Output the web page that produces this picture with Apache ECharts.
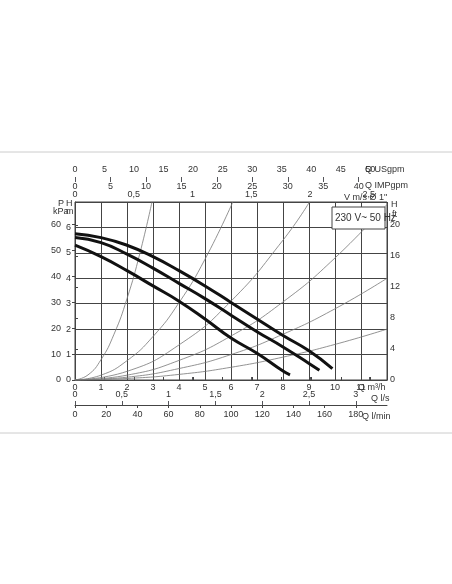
<!DOCTYPE html>
<html><head><meta charset="utf-8">
<script src="https://cdn.jsdelivr.net/npm/echarts@6/dist/echarts.min.js"></script>
<style>html,body{margin:0;background:#fff}#c{width:452px;height:584px}</style></head>
<body><div id="c"></div>
<script>
// pump curves: [Q m3/h, H m]
const pumpHigh = [[0,5.75],[1,5.6],[2,5.3],[3,4.85],[4,4.3],[5,3.7],[6,3.05],[7,2.4],[8,1.75],[9,1.15],[9.9,0.45]];
const pumpMid = [[0,5.6],[1,5.4],[2,4.95],[3,4.4],[4,3.8],[5,3.2],[6,2.55],[7,1.9],[8,1.3],[9,0.65],[9.4,0.38]];
const pumpLow = [[0,5.3],[1,4.85],[2,4.3],[3,3.7],[4,3.1],[5,2.4],[6,1.65],[7,1.05],[8,0.35],[8.27,0.2]];
// system curves
const sys1 = [[0,0],[0.5,0.2],[1,0.8],[1.5,1.8],[2,3.2],[2.5,5],[2.96,7]];
const sys2 = [[0,0],[1,0.19],[2,0.76],[3,1.71],[4,3.04],[5,4.75],[6.07,7]];
const sys3 = [[0,0],[2,0.34],[4,1.38],[6,3.1],[8,5.5],[9.02,7]];
const sys4 = [[0,0],[2,0.19],[4,0.77],[6,1.73],[8,3.07],[10,4.8],[12,6.9]];
const sys5 = [[0,0],[2,0.11],[4,0.45],[6,1.0],[8,1.8],[10,2.8],[12,4.0]];
const sys6 = [[0,0],[2,0.06],[4,0.22],[6,0.5],[8,0.9],[10,1.4],[12,2.0]];
const legendText = '230 V~ 50 Hz';

const F = 'Liberation Sans, Arial, sans-serif';
const ax = {color:'#333', fontSize:9, fontFamily:F};
const chart = echarts.init(document.getElementById('c'));
function xa(o){return Object.assign({type:'value',min:0,splitLine:{show:false},axisLine:{show:true,lineStyle:{color:'#444',width:1}},axisTick:{show:true,length:3,lineStyle:{color:'#444'}},axisLabel:Object.assign({showMaxLabel:false,margin:3},ax)},o,{axisLabel:Object.assign({showMaxLabel:false,margin:3},ax,o.axisLabel||{})});}
const thick = d=>({type:'line',data:d,xAxisIndex:0,yAxisIndex:0,smooth:true,symbol:'none',lineStyle:{color:'#111',width:3}});
const thin = d=>({type:'line',data:d,xAxisIndex:0,yAxisIndex:0,smooth:true,symbol:'none',lineStyle:{color:'#777',width:0.8}});
const T=(x,y,t,extra)=>Object.assign({type:'text',x:x,y:y,style:Object.assign({text:t,fill:'#333',font:'9px '+F},extra||{})});
chart.setOption({
  animation:false,
  grid:{left:75,top:202,width:312,height:178,show:true,borderColor:'#444',borderWidth:1},
  xAxis:[
    xa({max:12,interval:1,position:'bottom',splitLine:{show:true,lineStyle:{color:'#444',width:1}},axisTick:{show:false}}),
    xa({max:12/4.52,interval:0.5,position:'top',axisLine:{show:false},axisTick:{length:3},axisLabel:{formatter:v=>String(v).replace('.',',')}}),
    xa({max:52.83,interval:5,position:'top',offset:25}),
    xa({max:43.99,interval:5,position:'top',offset:25,axisLine:{show:false},axisTick:{inside:true},axisLabel:{inside:true,margin:5}}),
    xa({max:3.333,interval:0.5,position:'bottom',offset:25,axisLine:{show:false},axisTick:{inside:true,length:4},axisLabel:{inside:true,margin:6,formatter:v=>String(v).replace('.',',')}}),
    xa({max:200,interval:20,position:'bottom',offset:25,axisLabel:{margin:5}})
  ],
  yAxis:[
    {type:'value',min:0,max:7,interval:1,position:'left',splitLine:{show:true,lineStyle:{color:'#444'}},axisLine:{show:false},axisTick:{show:false},axisLabel:Object.assign({margin:4,showMaxLabel:false},ax)},
    {type:'value',min:0,max:68.65,interval:10,position:'left',offset:12,splitLine:{show:false},axisLine:{show:true,lineStyle:{color:'#444'}},axisTick:{show:true,inside:false,length:3},axisLabel:Object.assign({margin:2,showMaxLabel:false},ax)},
    {type:'value',min:0,max:22.97,interval:4,position:'right',splitLine:{show:false},axisLine:{show:false},axisTick:{show:true,length:3,lineStyle:{color:'#444'}},axisLabel:Object.assign({margin:3,showMaxLabel:false},ax)}
  ],
  series:[thin(sys1),thin(sys2),thin(sys3),thin(sys4),thin(sys5),thin(sys6),thick(pumpHigh),thick(pumpMid),thick(pumpLow)],
  graphic:[
    {type:'line',shape:{x1:0,y1:152,x2:452,y2:152},style:{stroke:'#ccc',lineWidth:1}},
    {type:'line',shape:{x1:0,y1:433,x2:452,y2:433},style:{stroke:'#ccc',lineWidth:1}},
    {type:'rect',shape:{x:332,y:207,width:53,height:22},style:{fill:'#fff',stroke:'#444',lineWidth:1},z:100},
    T(335,213,legendText,{font:'10px '+F}),
    T(365,165,'Q USgpm'),T(365,181,'Q IMPgpm'),T(344,193,'V m/s Ø 1"'),
    T(358,383,'Q m³/h'),T(371,394,'Q l/s'),T(362,412,'Q l/min'),
    T(58,199,'P'),T(53,207,'kPa'),T(66,199,'H'),T(66,207,'m'),
    T(391,200,'H'),T(392,210,'ft')
  ].map(g=>Object.assign({z:100},g))
});
</script></body></html>
